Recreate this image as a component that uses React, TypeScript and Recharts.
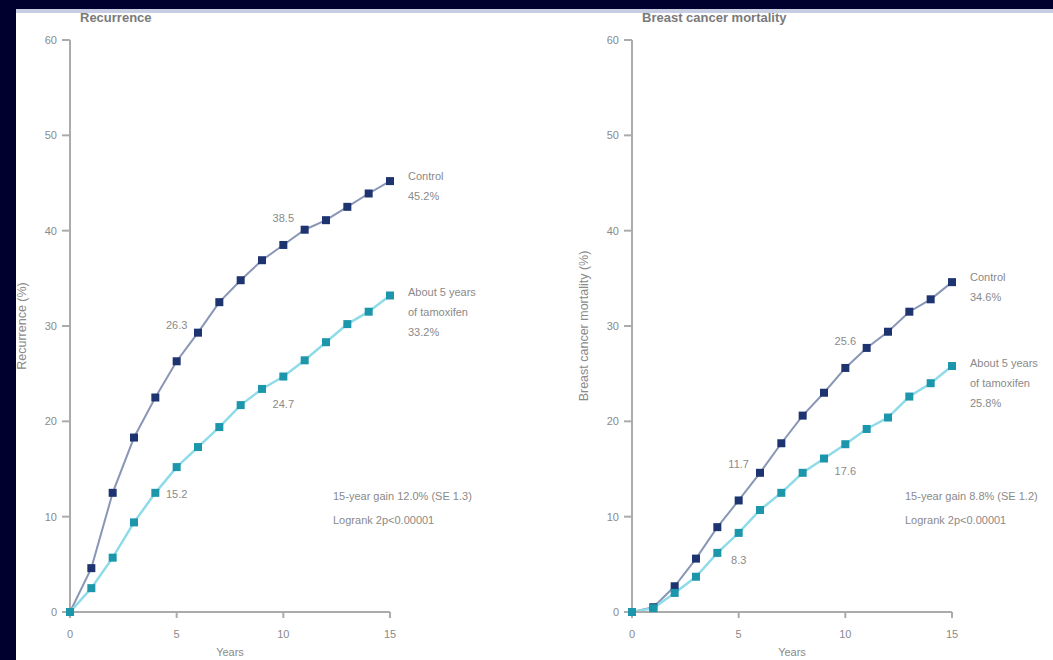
import { Line, LineChart, XAxis, YAxis } from "recharts"

const years = [0, 1, 2, 3, 4, 5, 6, 7, 8, 9, 10, 11, 12, 13, 14, 15]
const xTicks = [0, 5, 10, 15]
const yTicks = [0, 10, 20, 30, 40, 50, 60]
const markedYears = [5, 10]

const recurrenceControl = [0, 4.6, 12.5, 18.3, 22.5, 26.3, 29.3, 32.5, 34.8, 36.9, 38.5, 40.1, 41.1, 42.5, 43.9, 45.2]
const recurrenceTamoxifen = [0, 2.5, 5.7, 9.4, 12.5, 15.2, 17.3, 19.4, 21.7, 23.4, 24.7, 26.4, 28.3, 30.2, 31.5, 33.2]
const mortalityControl = [0, 0.5, 2.7, 5.6, 8.9, 11.7, 14.6, 17.7, 20.6, 23.0, 25.6, 27.7, 29.4, 31.5, 32.8, 34.6]
const mortalityTamoxifen = [0, 0.4, 2.0, 3.7, 6.2, 8.3, 10.7, 12.5, 14.6, 16.1, 17.6, 19.2, 20.4, 22.6, 24.0, 25.8]

const controlName = ["Control"]
const tamoxifenName = ["About 5 years", "of tamoxifen"]

const FONT = "'Liberation Sans', Arial, sans-serif"
const GREY = "#8a8a8a"
const AXIS = "#ababab"
const CONTROL_DOT = "#1e3470"
const CONTROL_LINE = "#8a96b6"
const TAM_DOT = "#1c96ab"
const TAM_LINE = "#8fdbe9"

function SquareDot(color: string) {
  return (p: any) => {
    if (p.cx == null || p.cy == null) return null
    return <rect key={`d${p.index}`} x={p.cx - 4} y={p.cy - 4} width={8} height={8} fill={color} />
  }
}

function makeLabel(values: number[], name: string[], markDy: number[], endDy: number) {
  return (p: any) => {
    const i = p.index
    if (markedYears.includes(i)) {
      const k = markedYears.indexOf(i)
      return (
        <text key={`l${i}`} x={p.x} y={p.y + markDy[k]} textAnchor="middle" dominantBaseline="central"
          fontSize={11} fill={GREY} fontFamily={FONT}>
          {values[i].toFixed(1)}
        </text>
      )
    }
    if (i === values.length - 1) {
      const lines = [...name, `${values[i].toFixed(1)}%`]
      return (
        <text key={`l${i}`} x={p.x + 18} y={p.y + endDy} fontSize={11} fill={GREY} fontFamily={FONT}
          dominantBaseline="central">
          {lines.map((t, j) => (
            <tspan key={j} x={p.x + 18} dy={j === 0 ? 0 : 20}>{t}</tspan>
          ))}
        </text>
      )
    }
    return null
  }
}

interface PanelProps {
  left: number
  width: number
  marginLeft: number
  marginRight: number
  title: string
  yLabel: string
  control: number[]
  tamoxifen: number[]
  gain: string[]
  gainLeft: number
}

function Panel(props: PanelProps) {
  const data = years.map((y, i) => ({ year: y, control: props.control[i], tamoxifen: props.tamoxifen[i] }))
  const plotLeft = props.left + props.marginLeft + 40
  return (
    <>
      <div style={{ position: "absolute", left: plotLeft + 10, top: 10, fontSize: 13, fontWeight: "bold", color: "#7a7a7a", fontFamily: FONT }}>
        {props.title}
      </div>
      <div style={{
        position: "absolute", left: plotLeft - 48, top: 326, width: 0, height: 0,
      }}>
        <div style={{
          position: "absolute", transform: "translate(-50%, -50%) rotate(-90deg)", whiteSpace: "nowrap",
          fontSize: 12.5, color: GREY, fontFamily: FONT,
        }}>{props.yLabel}</div>
      </div>
      <div style={{ position: "absolute", left: props.gainLeft, top: 484, fontSize: 11, lineHeight: "24px", color: GREY, fontFamily: FONT, whiteSpace: "nowrap" }}>
        {props.gain.map((g, i) => <div key={i}>{g}</div>)}
      </div>
      <div style={{ position: "absolute", left: props.left, top: 0 }}>
        <LineChart width={props.width} height={660} data={data}
          margin={{ top: 40, right: props.marginRight, bottom: 18, left: props.marginLeft }}>
          <XAxis dataKey="year" type="number" domain={[0, 15]} ticks={xTicks} height={30}
            stroke={AXIS} strokeWidth={2} tickSize={6} tickMargin={12}
            tick={{ fill: GREY, fontSize: 11, fontFamily: FONT }}
            label={{ value: "Years", position: "bottom", offset: 6, fill: GREY, fontSize: 11, fontFamily: FONT }} />
          <YAxis type="number" domain={[0, 60]} ticks={yTicks} width={40} interval={0}
            stroke={AXIS} strokeWidth={2} tickSize={8} tickMargin={5}
            tick={{ fill: GREY, fontSize: 11, fontFamily: FONT }} />
          <Line dataKey="control" stroke={CONTROL_LINE} strokeWidth={2} isAnimationActive={false}
            dot={SquareDot(CONTROL_DOT)} activeDot={false}
            label={makeLabel(props.control, controlName, [-36, -27], -5)} />
          <Line dataKey="tamoxifen" stroke={TAM_LINE} strokeWidth={2.5} isAnimationActive={false}
            dot={SquareDot(TAM_DOT)} activeDot={false}
            label={makeLabel(props.tamoxifen, tamoxifenName, [27, 27], -3)} />
        </LineChart>
      </div>
    </>
  )
}

export default function App() {
  return (
    <div style={{ position: "absolute", left: 0, top: 0, width: 1053, height: 660, background: "#00002e", overflow: "hidden" }}>
      <div style={{ position: "absolute", left: 16, top: 9, right: 0, bottom: 0, background: "#ffffff" }} />
      <div style={{ position: "absolute", left: 16, top: 9, right: 0, height: 4, background: "#c9cde2" }} />
      <Panel left={16} width={520} marginLeft={14} marginRight={146}
        title="Recurrence" yLabel="Recurrence (%)"
        control={recurrenceControl} tamoxifen={recurrenceTamoxifen}
        gain={["15-year gain 12.0% (SE 1.3)", "Logrank 2p<0.00001"]} gainLeft={333} />
      <Panel left={536} width={517} marginLeft={56} marginRight={101}
        title="Breast cancer mortality" yLabel="Breast cancer mortality (%)"
        control={mortalityControl} tamoxifen={mortalityTamoxifen}
        gain={["15-year gain 8.8% (SE 1.2)", "Logrank 2p<0.00001"]} gainLeft={905} />
    </div>
  )
}
